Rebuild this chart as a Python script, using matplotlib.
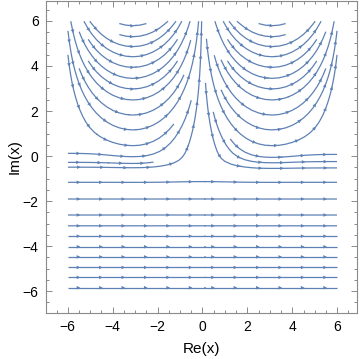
import numpy as np
import matplotlib
matplotlib.use("Agg")
import matplotlib.pyplot as plt
from matplotlib.patches import FancyArrowPatch

# ---- data -------------------------------------------------------------
# direction field ~ conj(sqrt(1 - W)),  W = exp(k (y - y0) - c x^2) * exp(-i pi x / P)
half_period = 3.1      # U centres at x = +/- half_period
growth = 3.5           # growth rate of the perturbation with Im(x)
branch_y = -0.3        # height of the branch point on Re(x) = 0
damping = 0.15         # damping of the perturbation away from Re(x) = 0
x_range = (-6.0, 6.0)
y_range = (-6.0, 6.0)
# streamlines as they cross x = -3 (left) and x = 3 (right)
seed_x_left = -3.1
seed_y_left = [-5.85, -5.39, -4.95, -4.48, -4.03, -3.56, -3.10, -2.62, -1.91,
               -1.17, -0.52, -0.33, -0.03, 0.46, 1.16, 1.82, 2.49, 2.98, 3.45,
               3.94, 4.41, 4.86, 5.30, 5.79]
seed_x_right = 3.1
seed_y_right = [-0.55, -0.30, -0.06, 0.46, 1.16, 1.82, 2.49, 2.98, 3.45, 3.94,
                4.41, 4.86, 5.30, 5.79]
x_ticks = [-6, -4, -2, 0, 2, 4, 6]
y_ticks = [-6, -4, -2, 0, 2, 4, 6]
x_label = "Re(x)"
y_label = "Im(x)"

# ---- field ------------------------------------------------------------
n = 600
gx = x_range[0] + (np.arange(n) + 0.5) * (x_range[1] - x_range[0]) / n
gy = y_range[0] + (np.arange(n) + 0.5) * (y_range[1] - y_range[0]) / n
X, Y = np.meshgrid(gx, gy)
W = np.exp(growth * (Y - branch_y) - damping * X ** 2) * np.exp(-1j * np.pi * X / half_period)
S = np.sqrt(1 - W)
U = S.real
V = -S.imag

color = "#5E81B5"
lw = 0.9
arrow_spacing = 1.0

fig = plt.figure(figsize=(3.6, 3.59), dpi=100)
ax = fig.add_axes([45.5 / 360, 46.3 / 359, 311.5 / 360, 312.0 / 359])

starts = [[seed_x_left, y] for y in seed_y_left] + [[seed_x_right, y] for y in seed_y_right]
sp = ax.streamplot(X, Y, U, V, start_points=starts, density=1.3,
                   color=color, linewidth=lw, arrowstyle="-", arrowsize=0.01,
                   minlength=0.05)

# each returned segment is one streamline: add arrows at regular arc length
for pts in sp.lines.get_segments():
    pts = np.asarray(pts)
    if len(pts) < 2:
        continue
    d = np.hypot(*np.diff(pts, axis=0).T)
    cum = np.concatenate([[0], np.cumsum(d)])
    total = cum[-1]
    if total < 0.3:
        continue
    na = max(1, int(round(total / arrow_spacing)))
    step = total / na
    for k in range(na):
        s = step * (k + 0.5)
        i = int(np.clip(np.searchsorted(cum, s), 1, len(pts) - 1))
        p0, p1 = pts[i - 1], pts[i]
        seg_len = d[i - 1]
        if seg_len <= 0:
            continue
        u = (p1 - p0) / seg_len
        q = p0 + (s - cum[i - 1]) * u
        ax.add_patch(FancyArrowPatch(q - 0.05 * u, q + 0.05 * u, arrowstyle="-|>",
                                     mutation_scale=6.5, color=color, lw=0,
                                     shrinkA=0, shrinkB=0))

ax.set_xlim(-6.99, 6.88)
ax.set_ylim(-6.96, 6.9)
ax.set_xticks(x_ticks)
ax.set_yticks(y_ticks)
ax.set_xticks(np.arange(-6.5, 7.0, 0.5), minor=True)
ax.set_yticks(np.arange(-6.5, 7.0, 0.5), minor=True)
frame_c = "#8a8a8a"
for s in ax.spines.values():
    s.set_color(frame_c)
    s.set_linewidth(0.8)
ax.tick_params(which="both", direction="in", top=True, right=True,
               color=frame_c, width=0.7)
ax.tick_params(which="major", length=4.0, labelsize=10, pad=5,
               labelcolor="black")
ax.tick_params(which="minor", length=2.0)
for lab in ax.get_xticklabels() + ax.get_yticklabels():
    lab.set_family("Liberation Sans")
ax.set_xlabel(x_label, fontsize=11, family="Liberation Sans", labelpad=6)
ax.set_ylabel(y_label, fontsize=11, family="Liberation Sans", labelpad=1)

fig.savefig("out.png", dpi=100)
